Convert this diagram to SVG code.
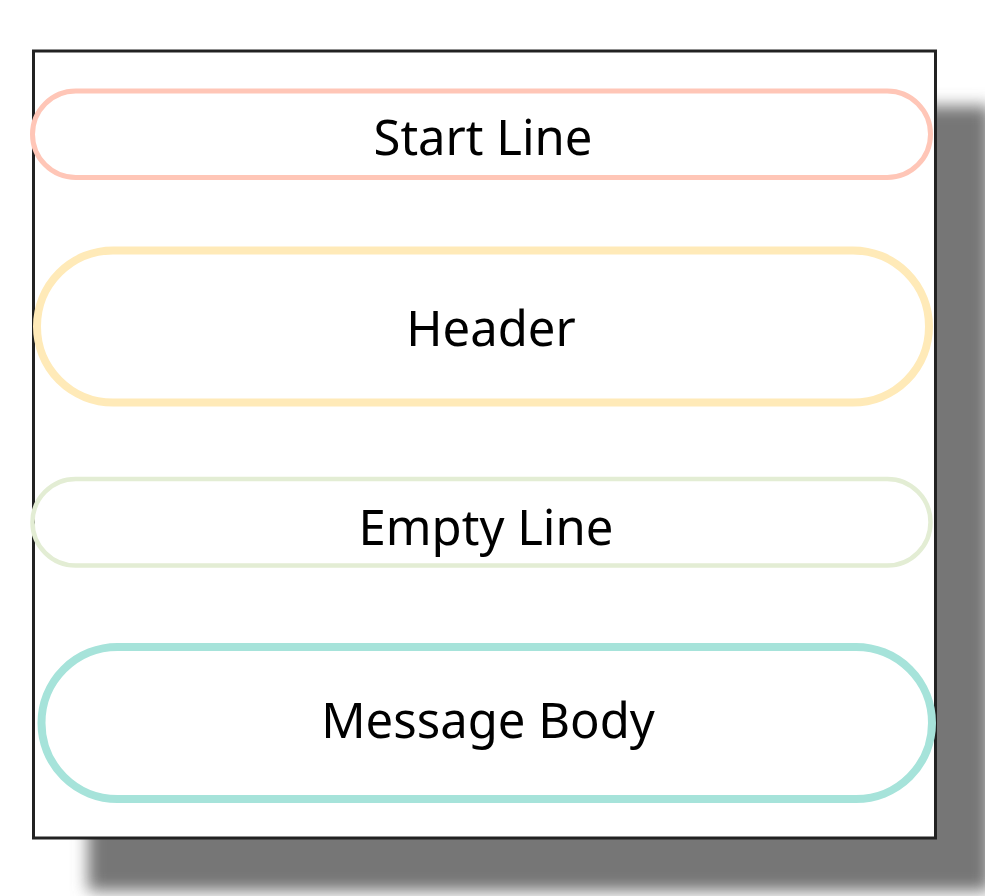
<svg xmlns="http://www.w3.org/2000/svg" width="985" height="896" viewBox="0 0 985 896">
<defs>
<filter id="blur" x="-10%" y="-10%" width="120%" height="120%"><feGaussianBlur stdDeviation="8"/></filter>
<style>
.lbl{font-family:"Source Sans Pro","Noto Sans","Open Sans",sans-serif;font-size:49px;fill:#000;text-anchor:middle}
.pill{fill:none}
</style>
</defs>
<rect x="0" y="0" width="985" height="896" fill="#fff"/>
<rect x="88" y="106" width="902" height="785" fill="#767676" filter="url(#blur)"/>
<rect id="frame" x="33.5" y="51" width="902" height="787" fill="#fff" stroke="#222" stroke-width="3"/>
<g id="connectors"></g>
<g id="start-line">
<rect class="pill" x="32.5" y="91" width="898" height="86.5" rx="43.25" stroke="#FFC6B7" stroke-width="5"/>
<text class="lbl" x="483" y="155">Start Line</text>
</g>
<g id="header">
<rect class="pill" x="37" y="250.5" width="892" height="152" rx="76" stroke="#FFEAB8" stroke-width="8"/>
<text class="lbl" x="491" y="346">Header</text>
</g>
<g id="empty-line">
<rect class="pill" x="32.5" y="479" width="898" height="86.5" rx="43.25" stroke="#E3EDD4" stroke-width="4.5"/>
<text class="lbl" x="486" y="545">Empty Line</text>
</g>
<g id="message-body">
<rect class="pill" x="41.5" y="647" width="890.5" height="152" rx="76" stroke="#A6E3DA" stroke-width="8"/>
<text class="lbl" x="488" y="738">Message Body</text>
</g>
</svg>
